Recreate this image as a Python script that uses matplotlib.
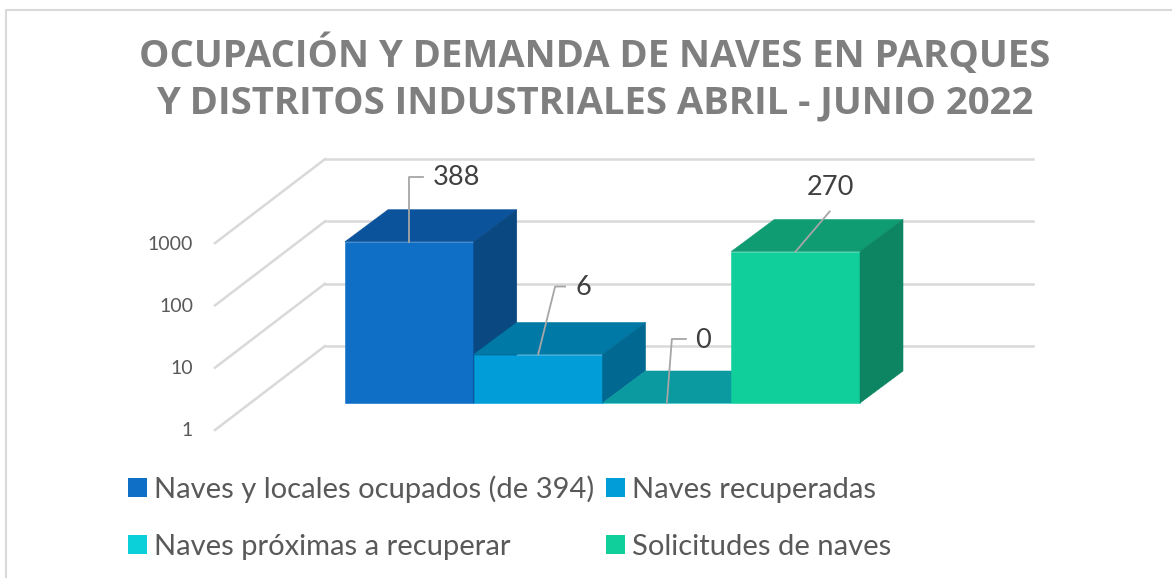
import matplotlib
matplotlib.use("Agg")
import matplotlib.pyplot as plt
from matplotlib.patches import Polygon, Patch
from matplotlib.lines import Line2D
from matplotlib.transforms import IdentityTransform

# ---------------- data ----------------
categories = ["Naves y locales ocupados (de 394)", "Naves recuperadas",
              "Naves próximas a recuperar", "Solicitudes de naves"]
values = [388, 6, 0, 270]
tick_values = [1, 10, 100, 1000]
tick_labels = ["1", "10", "100", "1000"]
title_lines = ["OCUPACIÓN Y DEMANDA DE NAVES EN PARQUES",
               "Y DISTRITOS INDUSTRIALES ABRIL - JUNIO 2022"]

# ---------------- style ----------------
front_colors = ["#0F6FC6", "#009DD9", "#0BD0D9", "#10CF9B"]
top_colors = ["#0B539B", "#0079A6", "#0A9A9F", "#0F9C72"]
side_colors = ["#0A4881", "#006891", "#08878A", "#0D8562"]
FONT = ["Lato", "DejaVu Sans"]

W, H = 1172, 578
fig = plt.figure(figsize=(W / 100, H / 100), dpi=100)
fig.patch.set_facecolor("white")
ident = IdentityTransform()

# bar front plane axes (pixel layout)
ax_l, ax_r = 345, 860
base_img_y, px_dec = 403, 62.3
ndec = 3
ax = fig.add_axes([ax_l / W, (H - base_img_y) / H, (ax_r - ax_l) / W, ndec * px_dec / H])
ax.set_yscale("log")
ax.set_xlim(-0.5, len(values) - 0.5)
ax.set_ylim(1, 10 ** ndec)
ax.axis("off")

# depth offsets (pixels)
bar_d = (43, 32)
wall_d = 57      # back wall vertical offset from bar plane
front_d = -27    # front edge vertical offset from bar plane
wall_x0, wall_x1, front_x = 325, 1033, 215
grid_col = "#D9D9D9"

def disp(x, y):
    return ax.transData.transform((x, y))

# border
fig.add_artist(Line2D([6, 6, W + 10], [-10, H - 10, H - 10], transform=ident,
                      color="#D9D9D9", lw=1.5, zorder=-5))

# gridlines / walls / tick labels
for v, lab in zip(tick_values, tick_labels):
    _, yd = disp(0, v)
    yb, yf = yd + wall_d, yd + front_d
    fig.add_artist(Line2D([wall_x0, wall_x1], [yb, yb], transform=ident,
                          color=grid_col, lw=1.8, zorder=-2))
    fig.add_artist(Line2D([front_x, wall_x0], [yf, yb], transform=ident,
                          color=grid_col, lw=1.8, zorder=-2))
    fig.text(193, yf - 1, lab, transform=ident, ha="right", va="center",
             fontsize=14, color="#595959", family=FONT)

# bars
for i, (v, cat) in enumerate(zip(values, categories)):
    veff = max(v, 1)
    ax.bar([i], [veff - 1], bottom=1, width=1.0, color=front_colors[i],
           edgecolor=front_colors[i], lw=0.4, zorder=10 + 3 * i, label=cat, clip_on=False)
    tl = disp(i - 0.5, veff)
    tr = disp(i + 0.5, veff)
    br = disp(i + 0.5, 1)
    dx, dy = bar_d
    top = [tl, tr, (tr[0] + dx, tr[1] + dy), (tl[0] + dx, tl[1] + dy)]
    ax.add_patch(Polygon(top, closed=True, transform=ident, fc=top_colors[i],
                         ec=top_colors[i], lw=0.4, zorder=11 + 3 * i, clip_on=False))
    if veff > 1:
        side = [tr, br, (br[0] + dx, br[1] + dy), (tr[0] + dx, tr[1] + dy)]
        ax.add_patch(Polygon(side, closed=True, transform=ident, fc=side_colors[i],
                             ec=side_colors[i], lw=0.4, zorder=11 + 3 * i, clip_on=False))

# data labels with leader lines (offsets in pixels from bar top-centre)
leader_offsets = [[(0, 0), (0, 65), (14, 65)],
                  [(0, 0), (17, 68), (27, 68)],
                  [(0, 0), (5, 64), (19, 64)],
                  [(0, 0), (34, 40)]]
text_offsets = [(23, 64, "left"), (37, 67, "left"), (28, 62, "left"), (35, 64, "center")]
for i, v in enumerate(values):
    px, py = disp(i, max(v, 1))
    pts = leader_offsets[i]
    ax.add_line(Line2D([px + a for a, b in pts], [py + b for a, b in pts], transform=ident,
                       color="#A6A6A6", lw=1.3, zorder=30, clip_on=False))
    ox, oy, ha = text_offsets[i]
    ax.text(px + ox, py + oy, str(v), transform=ident, ha=ha, va="center",
            fontsize=19.5, color="#404040", family=FONT, zorder=31, clip_on=False)

# title
for k, yb in enumerate([67, 113]):
    fig.text(595, H - yb, title_lines[k], transform=ident, ha="center", va="baseline",
             fontsize=27.5, fontweight="bold", color="#7F7F7F",
             family=["Open Sans", "DejaVu Sans"])

# legend (row-major order: 0,1 / 2,3)
order = [0, 2, 1, 3]
handles = [Patch(facecolor=front_colors[k], edgecolor="none") for k in order]
labels = [categories[k] for k in order]
fig.legend(handles, labels, ncol=2, loc="upper left",
           bbox_to_anchor=(128 / W, 1 - 475 / H), frameon=False,
           prop={"family": FONT, "size": 21}, labelcolor="#595959",
           handlelength=0.65, handleheight=0.65, handletextpad=0.25,
           columnspacing=0.38, labelspacing=1.06, borderpad=0, borderaxespad=0)

fig.savefig("out.png", dpi=100, facecolor="white")
